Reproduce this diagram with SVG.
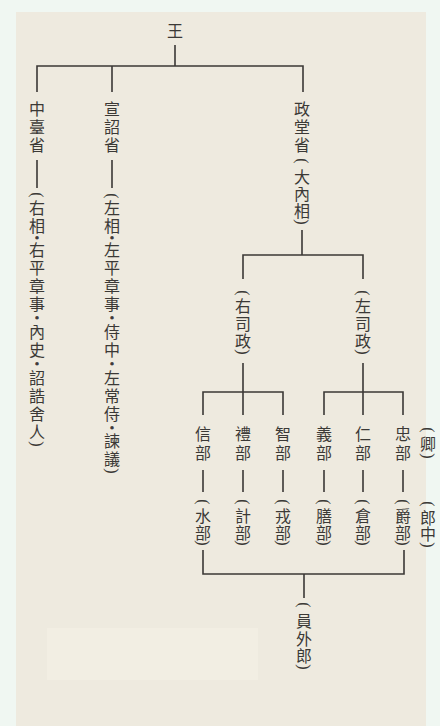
<svg xmlns="http://www.w3.org/2000/svg" width="440" height="726" viewBox="0 0 440 726">
<style>
text{font-family:"Noto Sans CJK TC","Noto Sans CJK SC",sans-serif;font-size:16px;fill:#3b3936;text-anchor:middle;dominant-baseline:central}
text.br{font-family:"Liberation Serif",serif;font-size:16px}
tspan.d{font-size:10px;font-weight:bold;stroke:#3b3936;stroke-width:0.8}
.ln{stroke:#3b3936;stroke-width:1.6;fill:none}
</style>
<rect width="440" height="726" fill="#f0f7f2"/>
<rect x="16" y="12" width="410" height="714" fill="#eeeadf"/>
<rect x="47" y="628" width="211" height="52" fill="#f2eee3"/>
<g id="connectors" class="ln">
<path d="M175 45V66M37 92V66H303V92M112 66V92"/>
<path d="M37 160V188M112 160V188"/>
<path d="M302 230V255M243 279V255H363V279"/>
<path d="M243 363V415M203 415V392H283V415M363 363V415M324 415V392H403V415"/>
<path d="M203 470V492M243 470V492M283 470V492M324 470V492M363 470V492M403 470V492"/>
<path d="M203 550V574H404V550M304 574V598"/>
</g>
<g id="wang"><text x="175" y="30">王</text></g>
<g id="zhongtai">
<text><tspan x="37" y="108">中</tspan><tspan x="37" y="126">臺</tspan><tspan x="37" y="144">省</tspan></text>
<text class="br" x="37" y="195" transform="rotate(90 37 195)">(</text>
<text><tspan x="37" y="207">右</tspan><tspan x="37" y="225">相</tspan><tspan class="d" x="37" y="237">·</tspan><tspan x="37" y="249">右</tspan><tspan x="37" y="267">平</tspan><tspan x="37" y="285">章</tspan><tspan x="37" y="303">事</tspan><tspan class="d" x="37" y="317">·</tspan><tspan x="37" y="331">內</tspan><tspan x="37" y="349">史</tspan><tspan class="d" x="37" y="363">·</tspan><tspan x="37" y="377">詔</tspan><tspan x="37" y="395">誥</tspan><tspan x="37" y="413">舍</tspan><tspan x="37" y="431">人</tspan></text>
<text class="br" x="37" y="444" transform="rotate(90 37 444)">)</text>
</g>
<g id="xuanzhao">
<text><tspan x="112" y="108">宣</tspan><tspan x="112" y="126">詔</tspan><tspan x="112" y="144">省</tspan></text>
<text class="br" x="112" y="196" transform="rotate(90 112 196)">(</text>
<text><tspan x="112" y="207">左</tspan><tspan x="112" y="225">相</tspan><tspan class="d" x="112" y="237">·</tspan><tspan x="112" y="249">左</tspan><tspan x="112" y="267">平</tspan><tspan x="112" y="285">章</tspan><tspan x="112" y="303">事</tspan><tspan class="d" x="112" y="317">·</tspan><tspan x="112" y="331">侍</tspan><tspan x="112" y="349">中</tspan><tspan class="d" x="112" y="363">·</tspan><tspan x="112" y="377">左</tspan><tspan x="112" y="395">常</tspan><tspan x="112" y="413">侍</tspan><tspan class="d" x="112" y="427">·</tspan><tspan x="112" y="440">諫</tspan><tspan x="112" y="458">議</tspan></text>
<text class="br" x="112" y="471" transform="rotate(90 112 471)">)</text>
</g>
<g id="zhengtang">
<text><tspan x="302" y="108">政</tspan><tspan x="302" y="126">堂</tspan><tspan x="302" y="144">省</tspan></text>
<text class="br" x="302" y="161" transform="rotate(90 302 161)">(</text>
<text><tspan x="302" y="176">大</tspan><tspan x="302" y="193">內</tspan><tspan x="302" y="210">相</tspan></text>
<text class="br" x="302" y="222" transform="rotate(90 302 222)">)</text>
</g>
<g id="yousizheng"><text class="br" x="243" y="293" transform="rotate(90 243 293)">(</text><text><tspan x="243" y="305">右</tspan><tspan x="243" y="323">司</tspan><tspan x="243" y="340">政</tspan></text><text class="br" x="243" y="352" transform="rotate(90 243 352)">)</text></g>
<g id="zuosizheng"><text class="br" x="363" y="293" transform="rotate(90 363 293)">(</text><text><tspan x="363" y="305">左</tspan><tspan x="363" y="323">司</tspan><tspan x="363" y="340">政</tspan></text><text class="br" x="363" y="352" transform="rotate(90 363 352)">)</text></g>
<g id="xinbu"><text><tspan x="203" y="433">信</tspan><tspan x="203" y="452">部</tspan></text><text class="br" x="203" y="502" transform="rotate(90 203 502)">(</text><text><tspan x="203" y="515">水</tspan><tspan x="203" y="532">部</tspan></text><text class="br" x="203" y="543" transform="rotate(90 203 543)">)</text></g>
<g id="libu"><text><tspan x="243" y="433">禮</tspan><tspan x="243" y="452">部</tspan></text><text class="br" x="243" y="502" transform="rotate(90 243 502)">(</text><text><tspan x="243" y="515">計</tspan><tspan x="243" y="532">部</tspan></text><text class="br" x="243" y="543" transform="rotate(90 243 543)">)</text></g>
<g id="zhibu"><text><tspan x="283" y="433">智</tspan><tspan x="283" y="452">部</tspan></text><text class="br" x="283" y="502" transform="rotate(90 283 502)">(</text><text><tspan x="283" y="515">戎</tspan><tspan x="283" y="532">部</tspan></text><text class="br" x="283" y="543" transform="rotate(90 283 543)">)</text></g>
<g id="yibu"><text><tspan x="324" y="433">義</tspan><tspan x="324" y="452">部</tspan></text><text class="br" x="324" y="502" transform="rotate(90 324 502)">(</text><text><tspan x="324" y="515">膳</tspan><tspan x="324" y="532">部</tspan></text><text class="br" x="324" y="543" transform="rotate(90 324 543)">)</text></g>
<g id="renbu"><text><tspan x="363" y="433">仁</tspan><tspan x="363" y="452">部</tspan></text><text class="br" x="363" y="502" transform="rotate(90 363 502)">(</text><text><tspan x="363" y="515">倉</tspan><tspan x="363" y="532">部</tspan></text><text class="br" x="363" y="543" transform="rotate(90 363 543)">)</text></g>
<g id="zhongbu"><text><tspan x="403" y="433">忠</tspan><tspan x="403" y="452">部</tspan></text><text class="br" x="403" y="502" transform="rotate(90 403 502)">(</text><text><tspan x="403" y="515">爵</tspan><tspan x="403" y="532">部</tspan></text><text class="br" x="403" y="543" transform="rotate(90 403 543)">)</text></g>
<g id="qing"><text class="br" x="428" y="430" transform="rotate(90 428 430)">(</text><text x="428" y="443">卿</text><text class="br" x="428" y="456" transform="rotate(90 428 456)">)</text></g>
<g id="langzhong"><text class="br" x="428" y="504" transform="rotate(90 428 504)">(</text><text><tspan x="428" y="517">郎</tspan><tspan x="428" y="533">中</tspan></text><text class="br" x="428" y="545" transform="rotate(90 428 545)">)</text></g>
<g id="yuanwailang"><text class="br" x="304" y="605" transform="rotate(90 304 605)">(</text><text><tspan x="304" y="620">員</tspan><tspan x="304" y="638">外</tspan><tspan x="304" y="655">郎</tspan></text><text class="br" x="304" y="667" transform="rotate(90 304 667)">)</text></g>
</svg>
